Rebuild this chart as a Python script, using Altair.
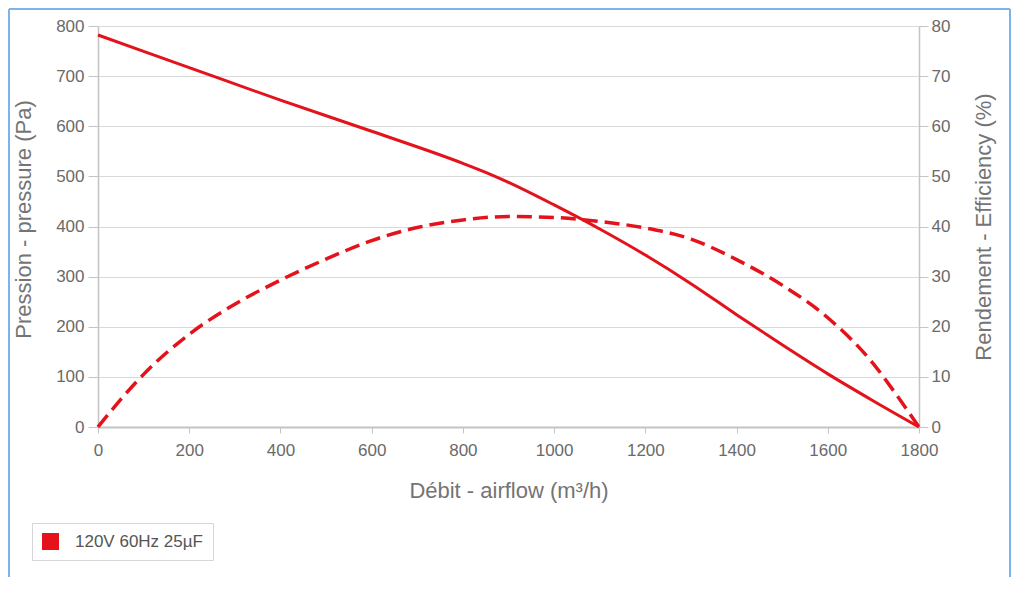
import altair as alt
import pandas as pd

# ---- data ----
series_name = "120V 60Hz 25µF"
airflow_p = [0, 200, 400, 600, 800, 850, 900, 1000, 1100, 1200, 1300, 1400, 1500, 1600, 1700, 1800]
pressure = [782, 717, 652, 590, 526, 508, 488, 443, 395, 343, 286, 224, 164, 106, 52, 0]

airflow_e = [0, 50, 100, 200, 300, 400, 500, 600, 700, 800, 900, 1000, 1100, 1200, 1300, 1400, 1500, 1600, 1700, 1750, 1800]
efficiency = [0, 5.5, 10.5, 18.5, 24.5, 29.3, 33.5, 37.2, 39.8, 41.3, 42.0, 41.8, 41.0, 39.7, 37.5, 33.4, 28.3, 21.8, 12.6, 6.5, 0]

x_ticks = [0, 200, 400, 600, 800, 1000, 1200, 1400, 1600, 1800]
p_ticks = [0, 100, 200, 300, 400, 500, 600, 700, 800]
e_ticks = [0, 10, 20, 30, 40, 50, 60, 70, 80]

RED = "#e3121b"
FONT = "Liberation Sans"
LABEL = "#6a6a6a"
TITLE = "#747474"
AXIS = "#c4c4c4"
FRAME = "#7db2ee"

dfp = pd.DataFrame({"airflow": airflow_p, "pressure": pressure, "series": series_name})
dfe = pd.DataFrame({"airflow": airflow_e, "efficiency": efficiency, "series": series_name})

x_scale = alt.Scale(domain=[0, 1800], nice=False)
x_axis = alt.Axis(values=x_ticks, title="Débit - airflow (m³/h)", grid=False, tickSize=6,
                  labelPadding=9, domainWidth=2, titleY=63, titleBaseline="middle",
                  format="d", labelFlush=False)

eff_line = alt.Chart(dfe).mark_line(color=RED, strokeWidth=3.5, strokeDash=[15, 7],
                                    interpolate="monotone").encode(
    x=alt.X("airflow:Q", scale=x_scale, axis=x_axis),
    y=alt.Y("efficiency:Q", scale=alt.Scale(domain=[0, 80], nice=False),
            axis=alt.Axis(orient="right", values=e_ticks, title="Rendement - Efficiency (%)",
                          grid=False, tickSize=9, labelPadding=3, titleAngle=-90,
                          titleX=64, titleBaseline="middle")),
)

pressure_line = alt.Chart(dfp).mark_line(color=RED, strokeWidth=3,
                                         interpolate="monotone").encode(
    x=alt.X("airflow:Q", scale=x_scale, axis=x_axis),
    y=alt.Y("pressure:Q", scale=alt.Scale(domain=[0, 800], nice=False),
            axis=alt.Axis(orient="left", values=p_ticks, title="Pression - pressure (Pa)",
                          grid=True, gridColor="#dadada", tickSize=10, labelPadding=4,
                          titleAngle=-90, titleX=-75, titleY=193, titleBaseline="middle")),
)

legend_pts = alt.Chart(dfp).mark_point(shape="square", filled=True, opacity=0, size=1).encode(
    x=alt.X("airflow:Q", scale=x_scale, axis=x_axis),
    y=alt.Y("pressure:Q", scale=alt.Scale(domain=[0, 800], nice=False), axis=None),
    color=alt.Color("series:N", scale=alt.Scale(domain=[series_name], range=[RED]),
                    legend=alt.Legend(title=None, orient="none", legendX=-66, legendY=497,
                                      symbolType="square", symbolSize=289, symbolOpacity=1,
                                      symbolStrokeWidth=0, labelFontSize=17, labelColor="#555555",
                                      labelFont=FONT, labelOffset=16, padding=10,
                                      fillColor="white", strokeColor="#d6d6d6")),
)

frame_df = pd.DataFrame({"k": [0]})
frame_left = alt.Chart(frame_df).mark_rule(color=FRAME, strokeWidth=2).encode(
    x=alt.value(-89), y=alt.value(-17), y2=alt.value(551))
frame_right = alt.Chart(frame_df).mark_rule(color=FRAME, strokeWidth=2).encode(
    x=alt.value(912), y=alt.value(-17), y2=alt.value(551))
frame_top = alt.Chart(frame_df).mark_rule(color=FRAME, strokeWidth=2).encode(
    x=alt.value(-89), x2=alt.value(912), y=alt.value(-17))

chart = alt.layer(
    eff_line, pressure_line, legend_pts, frame_left, frame_right, frame_top
).resolve_scale(y="independent").properties(
    width=821, height=401,
    background="white",
    autosize=alt.AutoSizeParams(type="none"),
    padding={"left": 90, "top": 18, "right": 92, "bottom": 150},
).configure_view(stroke=None).configure_axis(
    labelFont=FONT, labelFontSize=17, labelColor=LABEL,
    titleFont=FONT, titleFontSize=22, titleColor=TITLE, titleFontWeight="normal",
    domainColor=AXIS, domainWidth=1.5, tickColor=AXIS, tickWidth=1,
)

chart.save("out.html", embed_options={"renderer": "svg", "actions": False})
